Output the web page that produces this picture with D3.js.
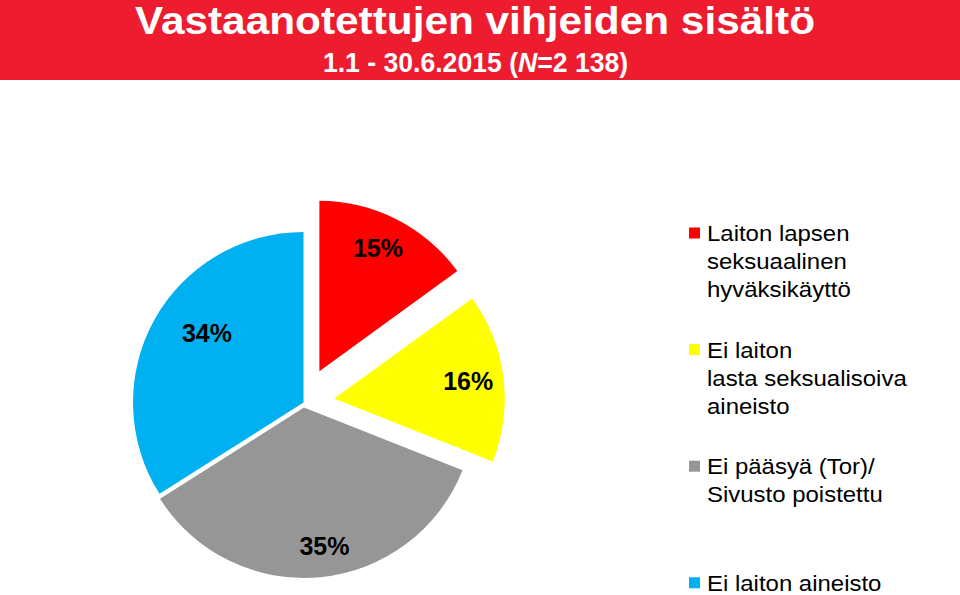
<!DOCTYPE html>
<html>
<head>
<meta charset="utf-8">
<script src="https://cdn.jsdelivr.net/npm/d3@7"></script>
<style>
  html, body { margin: 0; padding: 0; background: #fff; }
  svg { display: block; }
</style>
</head>
<body>
<svg id="chart" width="960" height="595"></svg>
<script>
// ---- Data ----
const titleText = "Vastaanotettujen vihjeiden sisältö";
const subtitleParts = ["1.1 - 30.6.2015 (", "N", "=2 138)"];
const categories = [
  "Laiton lapsen seksuaalinen hyväksikäyttö",
  "Ei laiton lasta seksualisoiva aineisto",
  "Ei pääsyä (Tor)/ Sivusto poistettu",
  "Ei laiton aineisto"
];
const legendLines = [
  ["Laiton lapsen", "seksuaalinen", "hyväksikäyttö"],
  ["Ei laiton", "lasta seksualisoiva", "aineisto"],
  ["Ei pääsyä (Tor)/", "Sivusto poistettu"],
  ["Ei laiton aineisto"]
];
const values = [15, 16, 35, 34];
const colors = ["#FF0000", "#FFFF00", "#969696", "#00B0F0"];

// ---- Layout ----
const cx = 303.5, cy = 402.5, R = 170.5;
const explode = [35, 31, 5, 0];
const labelRadius = [136, 135, 140, 119];
const labelAngleAdj = [-1.5, 0, -3, 7]; // degrees

const svg = d3.select("#chart");

// Title bar
svg.append("rect").attr("x", 0).attr("y", 0).attr("width", 960).attr("height", 80)
  .attr("fill", "#ED1C2E");
const titleFont = "'Liberation Sans Narrow', 'Arial Narrow', 'Liberation Sans', Arial, sans-serif";
svg.append("text").attr("x", 475).attr("y", 34).attr("text-anchor", "middle")
  .attr("font-family", titleFont).attr("font-weight", "bold").attr("font-size", 39)
  .attr("fill", "#fff").attr("textLength", 680).attr("lengthAdjust", "spacingAndGlyphs")
  .text(titleText);
const sub = svg.append("text")
  .attr("transform", "translate(475.5,72) scale(0.95,1)")
  .attr("x", 0).attr("y", 0).attr("text-anchor", "middle")
  .attr("font-family", titleFont).attr("font-weight", "bold").attr("font-size", 28)
  .attr("fill", "#fff");
subtitleParts.forEach((p, i) => {
  sub.append("tspan").attr("font-style", i === 1 ? "italic" : "normal").text(p);
});

// Pie
const pie = d3.pie().sort(null).value(d => d);
const arcs = pie(values);
const arcGen = d3.arc().innerRadius(0).outerRadius(R);
const g = svg.append("g").attr("transform", `translate(${cx},${cy})`);

arcs.forEach((a, i) => {
  const mid = (a.startAngle + a.endAngle) / 2;
  const ox = Math.sin(mid) * explode[i];
  const oy = -Math.cos(mid) * explode[i];
  const sg = g.append("g").attr("transform", `translate(${ox},${oy})`);
  sg.append("path").attr("d", arcGen(a)).attr("fill", colors[i]);
  const la = mid + labelAngleAdj[i] * Math.PI / 180;
  sg.append("text")
    .attr("x", Math.sin(la) * labelRadius[i])
    .attr("y", -Math.cos(la) * labelRadius[i])
    .attr("dy", "0.35em")
    .attr("text-anchor", "middle")
    .attr("font-family", "'Liberation Sans', Arial, sans-serif")
    .attr("font-weight", "bold").attr("font-size", 25).attr("fill", "#000")
    .text(Math.round(a.value) + "%");
});

// Legend
const legX = 689, legTextX = 707, legY0 = 233, legStep = 116.6, lineH = 28;
const leg = svg.append("g");
legendLines.forEach((lines, i) => {
  const y = legY0 + i * legStep;
  leg.append("rect").attr("x", legX).attr("y", y - 5.5).attr("width", 11).attr("height", 11)
    .attr("fill", colors[i]);
  const t = leg.append("text")
    .attr("transform", `translate(${legTextX},0) scale(1.065,1) translate(${-legTextX},0)`)
    .attr("x", legTextX).attr("y", y + 8)
    .attr("font-family", "'Liberation Sans', Arial, sans-serif")
    .attr("font-size", 22.5).attr("fill", "#000");
  lines.forEach((ln, j) => {
    t.append("tspan").attr("x", legTextX).attr("y", y + 8 + j * lineH).text(ln);
  });
});
</script>
</body>
</html>
